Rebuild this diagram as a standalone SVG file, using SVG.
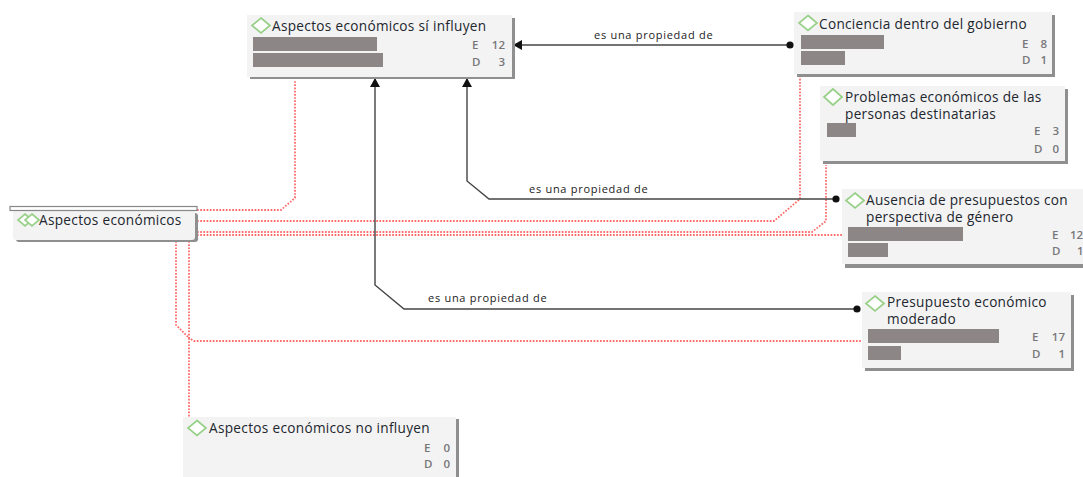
<svg xmlns="http://www.w3.org/2000/svg" width="1083" height="477" viewBox="0 0 1083 477">
<defs>
<marker id="tip" markerWidth="9" markerHeight="10" refX="8" refY="5" orient="auto" markerUnits="userSpaceOnUse"><path d="M0 0L9 5L0 10Z" fill="#111"/></marker>
<marker id="dot" markerWidth="8" markerHeight="8" refX="4" refY="4" markerUnits="userSpaceOnUse"><circle cx="4" cy="4" r="3.6" fill="#111"/></marker>
</defs>
<style>
text{font-family:"Open Sans","Noto Sans","Liberation Sans",sans-serif}
.box{fill:#f3f3f3}
.sh{fill:#8f8f8f}
.t{font-size:13.600px;letter-spacing:.32px;fill:#22262e}
.c{font-size:11.500px;fill:#77777a;font-weight:600}
.b{fill:#8d8686}
.d{fill:#fff;stroke:#98d088;stroke-width:1.700}
.l{font-size:11px;letter-spacing:.72px;fill:#222}
.r{fill:none;stroke:#ff6b6b;stroke-width:1.800;stroke-dasharray:1.700 1.500}
.k{fill:none;stroke:#444;stroke-width:1.400;marker-start:url(#dot);marker-end:url(#tip)}
</style>
<rect width="1083" height="477" fill="#fff"/>
<g id="connectors">
<path class="r" d="M197 210H281L295 198V80"/>
<path class="r" d="M197 221H774L800 199V77"/>
<path class="r" d="M197 232H812L826 221V165"/>
<path class="r" d="M197 235H842"/>
<path class="r" d="M176 241V325L189 338V417"/>
<path class="r" d="M189 241V338L194 341H862"/>
<path class="k" d="M790 45H514"/>
<path class="k" d="M836 199H489L467 181V79"/>
<path class="k" d="M857 309H404L375 285V79"/>
<text class="l" x="594" y="39">es una propiedad de</text>
<text class="l" x="529" y="193">es una propiedad de</text>
<text class="l" x="428" y="302">es una propiedad de</text>
</g>
<g id="n1">
<rect class="sh" x="250" y="18" width="265" height="61"/><rect class="box" x="247" y="15" width="265" height="62"/>
<path class="d" d="M261 18L270 25.500L261 33L252 25.500Z"/>
<text class="t" x="272" y="31">Aspectos económicos sí influyen</text>
<rect class="b" x="253" y="37" width="124" height="14"/><rect class="b" x="253" y="53" width="130" height="14"/>
<text class="c" x="472" y="49">E</text><text class="c" x="505" y="49" text-anchor="end">12</text>
<text class="c" x="472" y="66">D</text><text class="c" x="505" y="66" text-anchor="end">3</text>
</g>
<g id="n2">
<rect class="sh" x="797" y="15" width="258" height="62"/><rect class="box" x="794" y="12" width="258" height="62"/>
<path class="d" d="M808 15.500L817 23L808 30.500L799 23Z"/>
<text class="t" x="819" y="29">Conciencia dentro del gobierno</text>
<rect class="b" x="801" y="35" width="83" height="14"/><rect class="b" x="801" y="51" width="44" height="14"/>
<text class="c" x="1022" y="48">E</text><text class="c" x="1047" y="48" text-anchor="end">8</text>
<text class="c" x="1022" y="64">D</text><text class="c" x="1047" y="64" text-anchor="end">1</text>
</g>
<g id="n3">
<rect class="sh" x="823" y="89" width="245" height="75"/><rect class="box" x="820" y="86" width="245" height="75"/>
<path class="d" d="M833 89L842 97L833 105L824 97Z"/>
<text class="t" x="845" y="102">Problemas económicos de las</text>
<text class="t" x="845" y="119">personas destinatarias</text>
<rect class="b" x="827" y="123" width="29" height="14"/>
<text class="c" x="1034" y="135">E</text><text class="c" x="1059" y="135" text-anchor="end">3</text>
<text class="c" x="1034" y="153">D</text><text class="c" x="1059" y="153" text-anchor="end">0</text>
</g>
<g id="n4">
<rect class="sh" x="845" y="192" width="238" height="76"/><rect class="box" x="842" y="189" width="241" height="75"/>
<path class="d" d="M855 193L864 200.500L855 208L846 200.500Z"/>
<text class="t" x="866" y="205">Ausencia de presupuestos con</text>
<text class="t" x="866" y="222">perspectiva de género</text>
<rect class="b" x="848" y="227" width="115" height="14"/><rect class="b" x="848" y="243" width="40" height="14"/>
<text class="c" x="1052" y="239">E</text><text class="c" x="1070" y="239">12</text>
<text class="c" x="1052" y="255">D</text><text class="c" x="1077" y="255">1</text>
</g>
<g id="n5">
<rect class="sh" x="865" y="295" width="209" height="76"/><rect class="box" x="862" y="292" width="209" height="76"/>
<path class="d" d="M875 296L884 303.500L875 311L866 303.500Z"/>
<text class="t" x="887" y="306.500">Presupuesto económico</text>
<text class="t" x="887" y="323.500">moderado</text>
<rect class="b" x="868" y="329" width="131" height="14"/><rect class="b" x="868" y="346" width="33" height="14"/>
<text class="c" x="1032" y="341">E</text><text class="c" x="1065" y="341" text-anchor="end">17</text>
<text class="c" x="1032" y="358">D</text><text class="c" x="1065" y="358" text-anchor="end">1</text>
</g>
<g id="n6">
<rect class="sh" x="186" y="419" width="273" height="58"/><rect class="box" x="183" y="417" width="273" height="60"/>
<path class="d" d="M197 420.500L206 428L197 435.500L188 428Z"/>
<text class="t" x="209" y="433">Aspectos económicos no influyen</text>
<text class="c" x="424" y="452">E</text><text class="c" x="450" y="452" text-anchor="end">0</text>
<text class="c" x="424" y="468">D</text><text class="c" x="450" y="468" text-anchor="end">0</text>
</g>
<g id="n0">
<rect x="16" y="213" width="182" height="29" rx="3" class="sh"/><rect x="13" y="210" width="182" height="30" rx="3" class="box"/>
<rect x="10" y="206.500" width="187" height="4" fill="#fff" stroke="#888" stroke-width="1.200"/>
<path class="d" d="M25 214L32 220L25 226L18 220Z"/><path class="d" d="M32 214L39 220L32 226L25 220Z"/>
<text class="t" x="39" y="225">Aspectos económicos</text>
</g>
</svg>
